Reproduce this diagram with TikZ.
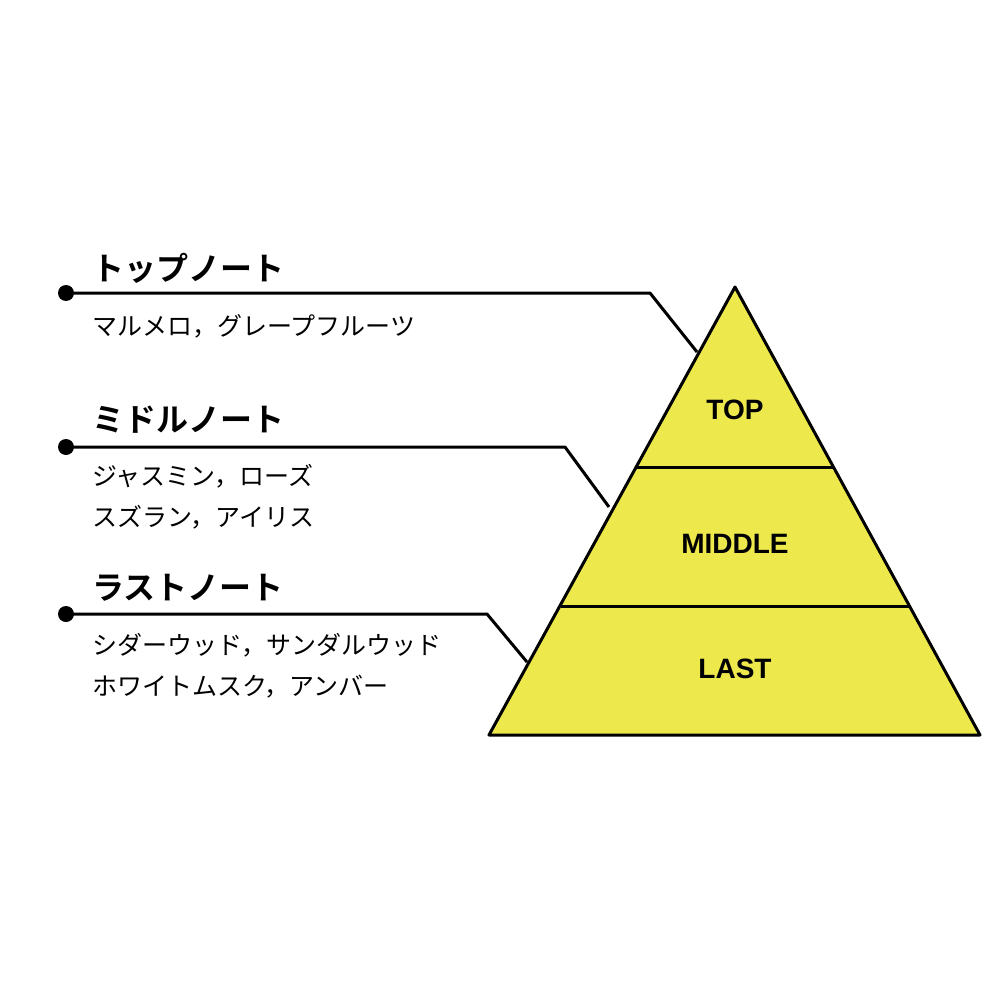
\documentclass[tikz,border=0pt]{standalone}
\usepackage{fontspec}
\newfontfamily\jp{Noto Sans CJK JP}
\newfontfamily\jpb{Noto Sans CJK JP Bold}
\newfontfamily\lab{Liberation Sans}
\definecolor{pyr}{HTML}{EDE84C}
\begin{document}
\begin{tikzpicture}[x=1pt,y=-1pt,
  edge/.style={line width=3pt,line join=round},
  head/.style={anchor=west,inner sep=0,font=\jpb\fontsize{32}{36}\selectfont},
  sub/.style={anchor=west,inner sep=0,align=left,font=\jp\fontsize{25}{41}\selectfont},
  lvl/.style={font=\lab\bfseries\fontsize{28}{32}\selectfont,inner sep=0},
  dot/.style={circle,fill=black,inner sep=0,minimum size=16pt}]
\useasboundingbox (0,0) rectangle (1000,1000);
\coordinate (A) at (735,287);
\coordinate (B) at (489,735);
\coordinate (C) at (980,735);
\fill[pyr] (A)--(B)--(C)--cycle;
\coordinate (m1l) at (636,467); \coordinate (m1r) at (833,467);
\coordinate (m2l) at (561,606); \coordinate (m2r) at (909,606);
\draw[edge] (m1l)--(m1r);
\draw[edge] (m2l)--(m2r);
\draw[edge] (A)--(B)--(C)--cycle;
\node[lvl] (top) at (735,410) {TOP};
\node[lvl] (mid) at (735,544) {MIDDLE};
\node[lvl] (last) at (735,669) {LAST};
% leaders
\node[dot] (d1) at (66,293) {};
\node[dot] (d2) at (66,447) {};
\node[dot] (d3) at (66,614) {};
\coordinate (k1) at (650,293); \coordinate (e1) at (697,352);
\coordinate (k2) at (565,447); \coordinate (e2) at (609,507);
\coordinate (k3) at (487,614); \coordinate (e3) at (527,662);
\draw[edge] (d1.center)--(k1)--(e1);
\draw[edge] (d2.center)--(k2)--(e2);
\draw[edge] (d3.center)--(k3)--(e3);
\node[head] (h1) at (92,268) {トップノート};
\node[head] (h2) at (92,420) {ミドルノート};
\node[head] (h3) at (92,588) {ラストノート};
\node[sub] (s1) at (92,326) {マルメロ，グレープフルーツ};
\node[sub] (s2) at (92,497) {ジャスミン，ローズ\\スズラン，アイリス};
\node[sub] (s3) at (92,666) {シダーウッド，サンダルウッド\\ホワイトムスク，アンバー};
\end{tikzpicture}
\end{document}
